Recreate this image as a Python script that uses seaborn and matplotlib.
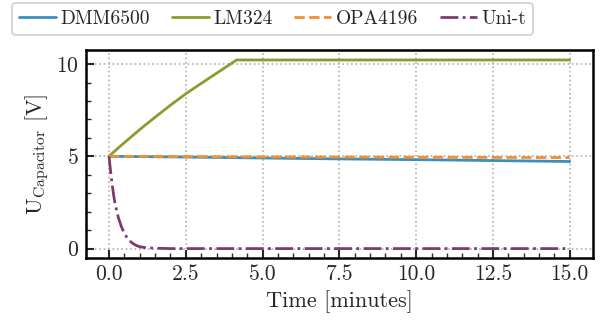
import numpy as np
import pandas as pd
import matplotlib
matplotlib.use("Agg")
import matplotlib.pyplot as plt
import seaborn as sns

# ---- data ----
dmm_t = [0.0, 2.5, 5.0, 7.5, 10.0, 12.5, 15.0]
dmm_v = [5.0, 4.96, 4.91, 4.86, 4.82, 4.77, 4.72]

lm_t = [0.0, 0.25, 0.5, 1.0, 1.5, 2.0, 2.5, 3.0, 3.5, 4.0, 4.15, 15.0]
lm_v = [5.0, 5.38, 5.74, 6.45, 7.12, 7.77, 8.39, 8.95, 9.5, 10.05, 10.22, 10.22]

opa_t = [0.0, 5.0, 10.0, 15.0]
opa_v = [5.0, 4.97, 4.95, 4.93]

uni_t = [0.0, 0.05, 0.1, 0.15, 0.2, 0.3, 0.4, 0.5, 0.6, 0.7, 0.8, 0.9, 1.0, 1.2, 1.5, 2.0, 15.0]
uni_v = [5.0, 4.2, 3.5, 2.9, 2.4, 1.7, 1.2, 0.82, 0.55, 0.38, 0.25, 0.16, 0.1, 0.05, 0.02, 0.0, 0.0]

names = ["DMM6500", "LM324", "OPA4196", "Uni-t"]
colors = ["#3a8fbd", "#8b9c2e", "#f28e35", "#7b3b6f"]
styles = ["-", "-", "--", "-."]

frames = []
for n, t, v in zip(names, [dmm_t, lm_t, opa_t, uni_t], [dmm_v, lm_v, opa_v, uni_v]):
    frames.append(pd.DataFrame({"t": t, "v": v, "series": n}))
df = pd.concat(frames, ignore_index=True)

sns.set_style("white")
plt.rcParams["font.family"] = "serif"
plt.rcParams["font.serif"] = ["cmr10"]
plt.rcParams["mathtext.fontset"] = "cm"
plt.rcParams["axes.formatter.use_mathtext"] = True
plt.rcParams["axes.unicode_minus"] = False

fig = plt.figure(figsize=(6.03, 3.27), dpi=100)
ax = fig.add_axes([0.1426, 0.211, 0.8404, 0.636])

for n, c, ls in zip(names, colors, styles):
    sns.lineplot(data=df[df.series == n], x="t", y="v", ax=ax, color=c,
                 linestyle=ls, linewidth=2.0, label=n, legend=False)

ax.set_xticks([0, 2.5, 5, 7.5, 10, 12.5, 15])
ax.set_xticklabels(["0.0", "2.5", "5.0", "7.5", "10.0", "12.5", "15.0"])
ax.set_yticks([0, 5, 10])
ax.set_xticks(np.arange(0, 15.01, 0.5), minor=True)
ax.set_yticks(np.arange(0, 10.01, 1.0), minor=True)
ax.set_xlim(-0.75, 15.75)
ax.set_ylim(-0.51, 10.76)

ax.grid(True, which="major", linestyle=":", color="#b0b0b0", linewidth=1.2)
ax.tick_params(which="major", direction="in", length=6, width=1.5, labelsize=15.5,
               bottom=True, left=True, top=False, right=False, pad=5)
ax.tick_params(which="minor", direction="in", length=3.5, width=1.0,
               bottom=True, left=True, top=False, right=False)
for s in ax.spines.values():
    s.set_linewidth(1.8)
    s.set_color("black")

ax.set_xlabel("Time [minutes]", fontsize=16)
ax.set_ylabel(r"U$_{\mathrm{Capacitor}}$ [V]", fontsize=16)

handles, labels = ax.get_legend_handles_labels()
leg = fig.legend(handles, labels, loc="upper left", bbox_to_anchor=(0.02, 0.99),
                 ncol=4, fontsize=14, frameon=True, fancybox=True,
                 edgecolor="#cccccc", handlelength=1.9, columnspacing=1.1,
                 handletextpad=0.25, borderpad=0.35, borderaxespad=0.0)
leg.get_frame().set_linewidth(1.5)

fig.savefig("out.png", dpi=100)
